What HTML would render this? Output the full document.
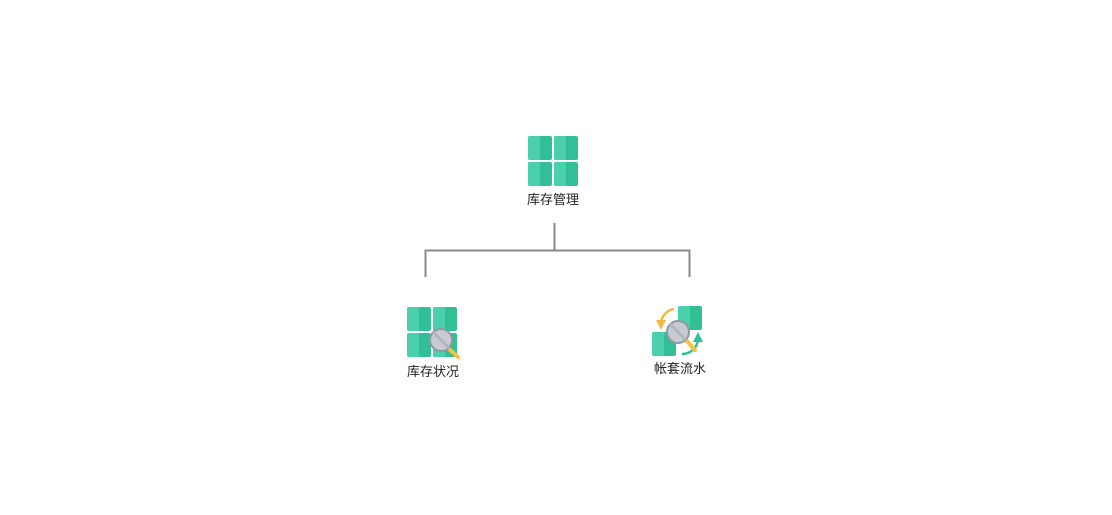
<!DOCTYPE html>
<html><head><meta charset="utf-8"><style>
body{margin:0;width:1112px;height:515px;background:#fff;position:relative;overflow:hidden;font-family:"Liberation Sans","Noto Sans CJK SC",sans-serif;}
.t{position:absolute;font-size:13px;color:#222;text-align:center;width:100px;line-height:16px}
svg{position:absolute;left:0;top:0}
</style></head><body>
<svg width="1112" height="515">
<defs>
<g id="tile"><rect width="24" height="24" rx="2" fill="#33bf96"/><path d="M2 0H12V24H2A2 2 0 0 1 0 22V2A2 2 0 0 1 2 0Z" fill="#4ad0ad"/></g>
</defs>
<use href="#tile" x="528" y="136"/><use href="#tile" x="554" y="136"/>
<use href="#tile" x="528" y="162"/><use href="#tile" x="554" y="162"/>
<g stroke="#8a8a8a" stroke-width="2" fill="none">
<path d="M554.5 223V250.5M425.5 277V250.5H689.5V277"/>
</g>
<use href="#tile" x="407" y="307"/><use href="#tile" x="433" y="307"/>
<use href="#tile" x="407" y="333"/><use href="#tile" x="433" y="333"/>
<line x1="447" y1="347" x2="458" y2="357" stroke="#f5c242" stroke-width="4" stroke-linecap="round"/>
<circle cx="441" cy="340" r="11" fill="#c8ccd2" stroke="#8e97a3" stroke-width="2"/>
<path d="M433 332L449 348" stroke="#b0b6bf" stroke-width="3"/>
<use href="#tile" x="678" y="306"/>
<use href="#tile" x="652" y="332"/>
<path d="M674 309A16 16 0 0 0 661 322" stroke="#f5b942" stroke-width="2.5" fill="none"/>
<path d="M656 320L666 320L661 330Z" fill="#f5b942"/>
<path d="M682 354A16 16 0 0 0 698 340" stroke="#2fbf96" stroke-width="2.5" fill="none"/>
<path d="M693 342L703 342L698 332Z" fill="#2fbf96"/>
<line x1="685" y1="339" x2="695" y2="350" stroke="#f5c242" stroke-width="4" stroke-linecap="round"/>
<circle cx="678" cy="332" r="11" fill="#c8ccd2" stroke="#8e97a3" stroke-width="2"/>
<path d="M670 324L686 340" stroke="#b0b6bf" stroke-width="3"/>
</svg>
<div class="t" style="left:503px;top:192px">库存管理</div>
<div class="t" style="left:383px;top:364px">库存状况</div>
<div class="t" style="left:630px;top:361px">帐套流水</div>
</body></html>
